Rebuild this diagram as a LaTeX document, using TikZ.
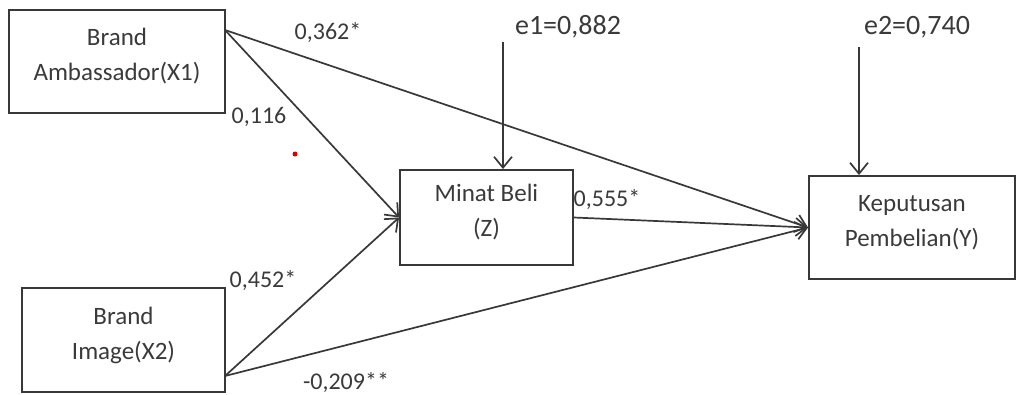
\documentclass[tikz,border=0pt]{standalone}
\usepackage{fontspec}
\setmainfont{Carlito}
\usetikzlibrary{arrows.meta}
\definecolor{ink}{HTML}{383838}
\definecolor{txt}{HTML}{3A3A3A}
\newcommand{\bxt}[1]{\raisebox{-1pt}[0pt][0pt]{\begin{tabular}{@{}c@{}}#1\end{tabular}}}
\tikzset{
  box/.style={draw=ink, line width=1.9pt, rectangle, inner sep=0pt,
    text=txt, font=\fontsize{25}{35}\selectfont},
  conn/.style={draw=ink, line width=1.7pt, -{Straight Barb[length=11pt,width=18pt,line width=1.7pt]}},
  lbl/.style={text=txt, font=\fontsize{24}{28}\selectfont, inner sep=0pt},
  elbl/.style={text=txt, font=\fontsize{28}{32}\selectfont, inner sep=0pt}
}
\begin{document}
\begin{tikzpicture}[x=1pt,y=-1pt]
\useasboundingbox (0,0) rectangle (1017,394);
% boxes
\node[box, minimum width=216pt, minimum height=103pt] (x1) at (117,61.5) {\bxt{Brand\\Ambassador(X1)}};
\node[box, minimum width=203pt, minimum height=104pt] (x2) at (123.5,340) {\bxt{Brand\\Image(X2)}};
\node[box, minimum width=173pt, minimum height=95pt] (z) at (486.5,217.5) {\bxt{Minat Beli\\(Z)}};
\node[box, minimum width=206pt, minimum height=103pt] (y) at (912,227.5) {\bxt{Keputusan\\Pembelian(Y)}};
% start coordinates
\coordinate (x1s) at (225,30);
\coordinate (x2s) at (225,376);
\coordinate (e1s) at (503,42);
\coordinate (e2s) at (859,47);
% connectors
\draw[conn] (x1s) -- (z.west);
\draw[conn] (x1s) -- (y.west);
\draw[conn] (x2s) -- (z.west);
\draw[conn] (x2s) -- (y.west);
\draw[conn] (z.east) -- (y.west);
\draw[conn] (e1s) -- (e1s |- z.north);
\draw[conn] (e2s) -- (e2s |- y.north);
% labels
\node[lbl] (l1) at (328,33) {0,362*};
\node[lbl] (l2) at (259,117) {0,116};
\node[lbl] (l3) at (263,281) {0,452*};
\node[lbl] (l4) at (346,383) {-0,209**};
\node[lbl] (l5) at (607,200) {0,555*};
\node[elbl] (e1) at (568,27) {e1=0,882};
\node[elbl] (e2) at (917,27) {e2=0,740};
% stray red dot
\fill[red!85!black] (295,154) circle (2.5pt);
\end{tikzpicture}
\end{document}
